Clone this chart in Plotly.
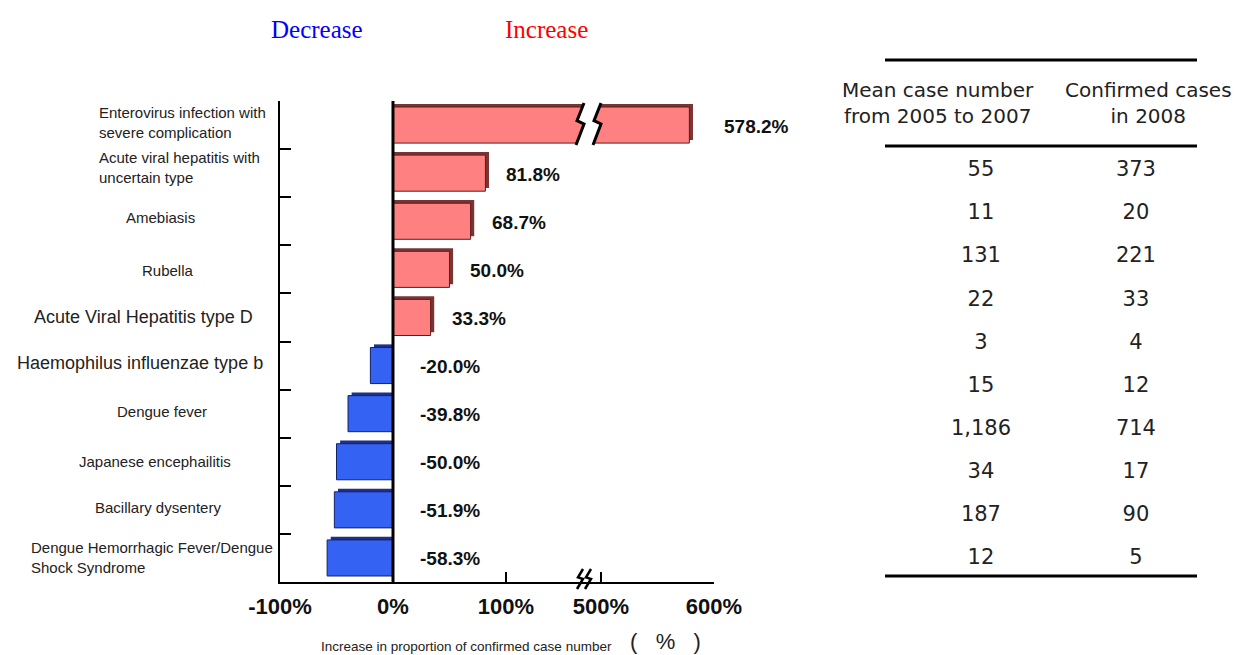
import plotly.graph_objects as go

W, H = 1247, 655

# ---------------- data ----------------
categories = [
    "Enterovirus infection with severe complication",
    "Acute viral hepatitis with uncertain type",
    "Amebiasis",
    "Rubella",
    "Acute Viral Hepatitis type D",
    "Haemophilus influenzae type b",
    "Dengue fever",
    "Japanese encephailitis",
    "Bacillary dysentery",
    "Dengue Hemorrhagic Fever/Dengue Shock Syndrome",
]
category_text = [
    "Enterovirus infection with<br>severe complication",
    "Acute viral hepatitis with<br>uncertain type",
    "Amebiasis",
    "Rubella",
    "Acute Viral Hepatitis type D",
    "Haemophilus influenzae type b",
    "Dengue fever",
    "Japanese encephailitis",
    "Bacillary dysentery",
    "Dengue Hemorrhagic Fever/Dengue<br>Shock Syndrome",
]
pct_change = [578.2, 81.8, 68.7, 50.0, 33.3, -20.0, -39.8, -50.0, -51.9, -58.3]
mean_2005_2007 = [55, 11, 131, 22, 3, 15, 1186, 34, 187, 12]
cases_2008 = [373, 20, 221, 33, 4, 12, 714, 17, 90, 5]

low_tickvals = [-100, 0, 100]
low_ticktext = ["-100%", "0%", "100%"]
high_tickvals = [500, 600]
high_ticktext = ["500%", "600%"]

table_columns = ["Mean case number from 2005 to 2007", "Confirmed cases in 2008"]
table_headers = ["Mean case number<br>from 2005 to 2007", "Confirmed cases<br>in 2008"]

# ---------------- layout helpers ----------------
def px(x):
    return x / W


def py(y):
    return 1 - y / H


LOW_RANGE = [-100, 172.6]
HIGH_RANGE = [488.5, 600]
X_LEFT, X_BREAK, X_RIGHT = 280, 588, 714
Y_TOP, Y_BOT = 101, 582

PINK, PINK_EDGE, PINK_SIDE = "#FF8080", "#5a1e1e", "#7a3434"
BLUE, BLUE_EDGE, BLUE_SIDE = "#3462F2", "#14206a", "#1d2f86"

face = [PINK if v > 0 else BLUE for v in pct_change]
edge = [PINK_EDGE if v > 0 else BLUE_EDGE for v in pct_change]
side = [PINK_SIDE if v > 0 else BLUE_SIDE for v in pct_change]
DEPTH = 3.2

fig = go.Figure()

for xa in ["x", "x2"]:
    fig.add_trace(go.Bar(
        y=categories, x=[v + DEPTH for v in pct_change], orientation="h",
        xaxis=xa, yaxis="y", width=0.75, offset=-0.44,
        marker=dict(color=side, line=dict(width=0)),
        hoverinfo="skip", showlegend=False))
    fig.add_trace(go.Bar(
        y=categories, x=pct_change, orientation="h",
        xaxis=xa, yaxis="y", width=0.75, offset=-0.375,
        marker=dict(color=face, line=dict(color=edge, width=1)),
        showlegend=False))

# table values
table_font = dict(family="DejaVu Sans", size=21, color="#222")
for col, vals in zip(table_columns, [mean_2005_2007, cases_2008]):
    fig.add_trace(go.Scatter(
        x=[col] * len(vals), y=categories, text=[f"{v:,}" for v in vals],
        mode="text", textposition="middle center", textfont=table_font,
        xaxis="x3", yaxis="y3", cliponaxis=False, showlegend=False,
        hoverinfo="skip"))

n = len(categories)
tick_font = dict(family="Liberation Sans, Arial", size=22, color="#111", weight="bold")
zero_pos = px(X_LEFT) + (0 - LOW_RANGE[0]) / (LOW_RANGE[1] - LOW_RANGE[0]) * (px(X_BREAK) - px(X_LEFT))

fig.update_layout(
    width=W, height=H, autosize=False,
    margin=dict(l=0, r=0, t=0, b=0, pad=0, autoexpand=False),
    paper_bgcolor="white", plot_bgcolor="white",
    barmode="overlay", showlegend=False,
    xaxis=dict(domain=[px(X_LEFT), px(X_BREAK)], range=LOW_RANGE, anchor="y",
               showline=True, linecolor="black", linewidth=2,
               ticks="inside", ticklen=10, tickwidth=2, tickcolor="black",
               tickvals=low_tickvals, ticktext=low_ticktext, tickfont=tick_font,
               showgrid=False, zeroline=False, ticklabelstandoff=4, automargin=False),
    xaxis2=dict(domain=[px(X_BREAK), px(X_RIGHT)], range=HIGH_RANGE, anchor="y",
                showline=True, linecolor="black", linewidth=2,
                ticks="inside", ticklen=10, tickwidth=2, tickcolor="black",
                tickvals=high_tickvals, ticktext=high_ticktext, tickfont=tick_font,
                showgrid=False, zeroline=False, ticklabelstandoff=4, automargin=False),
    yaxis=dict(domain=[py(Y_BOT), py(Y_TOP)], anchor="x", type="category",
               categoryorder="array", categoryarray=categories,
               range=[n - 0.5, -0.5], showline=True, linecolor="black", linewidth=2,
               ticks="inside", tickson="boundaries", ticklen=11, tickwidth=2,
               tickcolor="black", showticklabels=False, showgrid=False, zeroline=False,
               automargin=False),
    yaxis4=dict(overlaying="y", anchor="free", position=zero_pos, side="left",
                range=[n - 0.5, -0.5], tickvals=[i - 0.5 for i in range(n + 1)],
                ticks="inside", ticklen=7, tickwidth=2, tickcolor="black",
                showticklabels=False, showline=False, showgrid=False, zeroline=False,
                layer="above traces", automargin=False),
    xaxis3=dict(domain=[px(885), px(1197)], anchor="y3", type="category",
                categoryorder="array", categoryarray=table_columns,
                range=[-0.619, 1.394], visible=False, automargin=False),
    yaxis3=dict(domain=[py(576), py(146)], anchor="x3", type="category",
                categoryorder="array", categoryarray=categories,
                range=[9.394, -0.58], visible=False, automargin=False),
)

# zero line above bars
fig.add_shape(type="line", xref="x", yref="y domain", x0=0, x1=0, y0=0, y1=1,
              line=dict(color="black", width=3), layer="above")

# value labels (anchored at the bar end, or at zero for decreases)
POS_PAD, NEG_PAD, HIGH_PAD = 19, 25, 33
label_font = dict(family="Liberation Sans, Arial", size=19, color="#111", weight="bold")
for cat, v in zip(categories, pct_change):
    high = v >= LOW_RANGE[1]
    fig.add_annotation(
        xref="x2" if high else "x", yref="y", x=max(v, 0), y=cat,
        text=f"{v:.1f}%", showarrow=False, xanchor="left", yanchor="middle",
        xshift=HIGH_PAD if high else (POS_PAD if v > 0 else NEG_PAD), yshift=-1,
        font=label_font)

# category labels
label_style = [
    ("left", 97, 15, 3), ("left", 97, 15, 6), ("center", 160, 15, 4),
    ("center", 168, 15, -1), ("center", 143, 18, 0), ("center", 140, 18, 3),
    ("center", 162, 15, 2), ("center", 155, 15, 0), ("center", 158, 15, 2),
    ("left", 29, 15, 0),
]
for cat, txt, (anc, xpx, size, ysh) in zip(categories, category_text, label_style):
    fig.add_annotation(xref="paper", yref="y", x=px(xpx), y=cat, text=txt,
                       xanchor=anc, yanchor="middle", align=anc if anc == "left" else "center",
                       showarrow=False, yshift=ysh,
                       font=dict(family="Liberation Sans, Arial", size=size, color="#222"))

# Decrease / Increase
for txt, xc, col in [("Decrease", 317, "#0000FF"), ("Increase", 546, "#FF0000")]:
    fig.add_annotation(xref="paper", yref="paper", x=px(xc), y=py(30), text=txt,
                       showarrow=False, xanchor="center", yanchor="middle",
                       font=dict(family="Liberation Serif, Times New Roman", size=25, color=col))

# axis title (text + large bracketed unit)
fig.add_annotation(
    xref="paper", yref="paper", x=px(466), y=py(646), showarrow=False,
    xanchor="center", yanchor="middle",
    text="Increase in proportion of confirmed case number",
    font=dict(family="Liberation Sans, Arial", size=13.5, color="#222"))
fig.add_annotation(
    xref="paper", yref="paper", x=px(665), y=py(641), showarrow=False,
    xanchor="center", yanchor="middle",
    text="(   %   )",
    font=dict(family="Liberation Sans, Arial", size=22, color="#222"))

# table header + rules
for txt, xc in zip(table_headers, [938, 1148]):
    fig.add_annotation(xref="paper", yref="paper", x=px(xc), y=py(103), text=txt,
                       showarrow=False, xanchor="center", yanchor="middle",
                       font=dict(family="DejaVu Sans", size=20, color="#222"))
for yy in [60, 146, 576]:
    fig.add_shape(type="line", xref="paper", yref="paper", x0=px(885), x1=px(1197),
                  y0=py(yy), y1=py(yy), line=dict(color="black", width=3))

# break marks on the long bar
def zig(cx, top, bot, a=4):
    h = bot - top
    pts = [(cx + a, top), (cx - a + 1, top + 0.42 * h), (cx + a, top + 0.5 * h), (cx - a, bot)]
    return pts

bt, bb = 103, 145
left_z = zig(580, bt, bb)
right_z = zig(597, bt, bb)
poly = left_z + right_z[::-1]
path = "M " + " L ".join(f"{px(x)},{py(y)}" for x, y in poly) + " Z"
fig.add_shape(type="path", xref="paper", yref="paper", path=path,
              fillcolor="white", line=dict(width=0), layer="above")
for z in (left_z, right_z):
    p = "M " + " L ".join(f"{px(x)},{py(y)}" for x, y in z)
    fig.add_shape(type="path", xref="paper", yref="paper", path=p,
                  line=dict(color="black", width=3), layer="above")

# break marks on the axis
for cx in (580, 588):
    z = zig(cx, 569, 589, a=3)
    p = "M " + " L ".join(f"{px(x)},{py(y)}" for x, y in z)
    fig.add_shape(type="path", xref="paper", yref="paper", path=p,
                  line=dict(color="black", width=2.5), layer="above")

fig.write_html("out.html")
